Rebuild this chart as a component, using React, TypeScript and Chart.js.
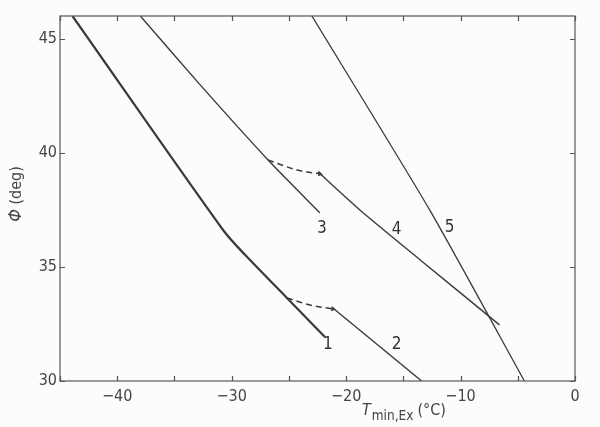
import React, { useEffect, useRef } from "react";
import { Chart, registerables } from "chart.js";
Chart.register(...registerables);

// axis ranges / ticks
const xMin = -45;
const xMax = 0;
const yMin = 30;
const yMax = 46;
const xMinorStep = 5;
const yMinorStep = 5;

// curve 1 (thick)
const curve1T = [-43.91, -30.75, -28.83, -25.17, -21.85];
const curve1Phi = [46.0, 36.62, 35.53, 33.64, 31.93];
// dashed transition 1 -> 2
const dash12T = [-25.17, -23.16, -21.16];
const dash12Phi = [33.64, 33.33, 33.16];
// curve 2
const curve2T = [-21.16, -13.4];
const curve2Phi = [33.2, 30.0];
// curve 3
const curve3T = [-37.98, -32.75, -26.82, -22.29];
const curve3Phi = [46.0, 42.98, 39.69, 37.37];
// dashed transition 3 -> 4
const dash34T = [-26.82, -24.29, -22.29];
const dash34Phi = [39.69, 39.25, 39.08];
// curve 4
const curve4T = [-22.46, -18.8, -13.31, -6.6];
const curve4Phi = [39.17, 37.5, 35.22, 32.46];
// curve 5
const curve5T = [-22.99, -12.7, -4.42];
const curve5Phi = [46.0, 37.5, 30.0];

// curve labels
const seriesLabels = ["1", "2", "3", "4", "5"];
const seriesLabelT = [-21.59, -15.58, -22.11, -15.58, -10.95];
const seriesLabelPhi = [31.58, 31.58, 36.67, 36.62, 36.71];

const LINE = "#3a3a3a";
const TEXT = "#444";
const FONT = "'DejaVu Sans Condensed', 'DejaVu Sans', sans-serif";

const pts = (xs: number[], ys: number[]) => xs.map((x, i) => ({ x, y: ys[i] }));

const framePlugin = {
  id: "framePlugin",
  afterDraw(chart: any) {
    const { ctx, chartArea: a, scales } = chart;
    const xs = scales.x;
    const ys = scales.y;
    ctx.save();
    ctx.strokeStyle = "#555";
    ctx.lineWidth = 1.2;
    ctx.strokeRect(a.left, a.top, a.right - a.left, a.bottom - a.top);
    const tl = 5;
    ctx.beginPath();
    for (let v = Math.ceil(xMin / xMinorStep) * xMinorStep; v <= xMax; v += xMinorStep) {
      const px = Math.round(xs.getPixelForValue(v)) + 0.5;
      ctx.moveTo(px, a.bottom);
      ctx.lineTo(px, a.bottom - tl);
      ctx.moveTo(px, a.top);
      ctx.lineTo(px, a.top + tl);
    }
    for (let v = Math.ceil(yMin / yMinorStep) * yMinorStep; v <= yMax; v += yMinorStep) {
      const py = Math.round(ys.getPixelForValue(v)) + 0.5;
      ctx.moveTo(a.left, py);
      ctx.lineTo(a.left + tl, py);
      ctx.moveTo(a.right, py);
      ctx.lineTo(a.right - tl, py);
    }
    ctx.stroke();

    // curve labels
    ctx.fillStyle = "#333";
    ctx.font = `17px ${FONT}`;
    ctx.textAlign = "center";
    ctx.textBaseline = "middle";
    seriesLabels.forEach((s, i) => {
      ctx.fillText(s, xs.getPixelForValue(seriesLabelT[i]), ys.getPixelForValue(seriesLabelPhi[i]));
    });

    // x-axis title: T_min,Ex (°C)
    ctx.fillStyle = TEXT;
    ctx.textAlign = "left";
    ctx.textBaseline = "alphabetic";
    let x = 362;
    ctx.font = `italic 16px ${FONT}`;
    ctx.fillText("T", x, 415);
    x += ctx.measureText("T").width + 1;
    ctx.font = `13.5px ${FONT}`;
    ctx.fillText("min,Ex", x, 420);
    x += ctx.measureText("min,Ex").width + 4;
    ctx.font = `16px ${FONT}`;
    ctx.fillText("(°C)", x, 415);

    // y-axis title
    ctx.save();
    ctx.translate(21, 194);
    ctx.rotate(-Math.PI / 2);
    ctx.textAlign = "left";
    ctx.textBaseline = "alphabetic";
    const phi = "Φ";
    const rest = " (deg)";
    ctx.font = `italic 18px ${FONT}`;
    const w1 = ctx.measureText(phi).width;
    ctx.font = `16px ${FONT}`;
    const w2 = ctx.measureText(rest).width;
    const start = -(w1 + w2) / 2;
    ctx.font = `italic 18px ${FONT}`;
    ctx.fillText(phi, start, 0);
    ctx.font = `16px ${FONT}`;
    ctx.fillText(rest, start + w1, 0);
    ctx.restore();
    ctx.restore();
  },
};

const bgPlugin = {
  id: "bgPlugin",
  beforeDraw(chart: any) {
    const { ctx, width, height } = chart;
    ctx.save();
    ctx.fillStyle = "#fcfcfb";
    ctx.fillRect(0, 0, width, height);
    ctx.restore();
  },
};

export default function App() {
  const ref = useRef<HTMLCanvasElement | null>(null);
  useEffect(() => {
    if (!ref.current) return;
    const solid = (data: any, w: number, extra: any = {}) => ({
      data,
      showLine: true,
      borderColor: LINE,
      backgroundColor: LINE,
      borderWidth: w,
      pointRadius: 0,
      pointHoverRadius: 0,
      ...extra,
    });
    const dashed = (data: any) => ({
      data,
      showLine: true,
      borderColor: LINE,
      backgroundColor: LINE,
      borderWidth: 1.5,
      borderDash: [6, 4],
      cubicInterpolationMode: "monotone",
      pointRadius: data.map((_: any, i: number) => (i === data.length - 1 ? 3 : 0)),
      pointStyle: "triangle",
      rotation: 100,
      pointBorderWidth: 0,
      pointBackgroundColor: LINE,
    });
    const chart = new Chart(ref.current, {
      type: "scatter",
      data: {
        datasets: [
          solid(pts(curve1T, curve1Phi), 2.2, { tension: 0.3 }),
          dashed(pts(dash12T, dash12Phi)),
          solid(pts(curve2T, curve2Phi), 1.4),
          solid(pts(curve3T, curve3Phi), 1.4, { tension: 0.2 }),
          dashed(pts(dash34T, dash34Phi)),
          solid(pts(curve4T, curve4Phi), 1.4, { tension: 0.2 }),
          solid(pts(curve5T, curve5Phi), 1.3, { tension: 0.2 }),
        ] as any,
      },
      options: {
        animation: false,
        responsive: false,
        maintainAspectRatio: false,
        layout: { padding: { top: 16, right: 25, left: 0, bottom: 0 } },
        plugins: { legend: { display: false }, tooltip: { enabled: false }, title: { display: false } },
        scales: {
          x: {
            type: "linear",
            min: xMin,
            max: xMax,
            grid: { display: false, drawTicks: false },
            border: { display: false },
            ticks: {
              stepSize: 10,
              includeBounds: false,
              padding: 6,
              color: TEXT,
              font: { family: FONT, size: 16 },
              callback: (v: any) => (v < 0 ? "\u2212" + Math.abs(v) : String(v)),
            },
            afterFit: (s: any) => {
              s.height = 46;
            },
          },
          y: {
            type: "linear",
            min: yMin,
            max: yMax,
            grid: { display: false, drawTicks: false },
            border: { display: false },
            ticks: {
              stepSize: 5,
              includeBounds: false,
              padding: 3,
              color: TEXT,
              font: { family: FONT, size: 16 },
            },
            afterFit: (s: any) => {
              s.width = 60;
            },
          },
        },
      } as any,
      plugins: [bgPlugin, framePlugin],
    });
    return () => chart.destroy();
  }, []);
  return (
    <div style={{ position: "fixed", left: 0, top: 0, width: 600, height: 427 }}>
      <canvas ref={ref} width={600} height={427} style={{ width: 600, height: 427 }} />
    </div>
  );
}
